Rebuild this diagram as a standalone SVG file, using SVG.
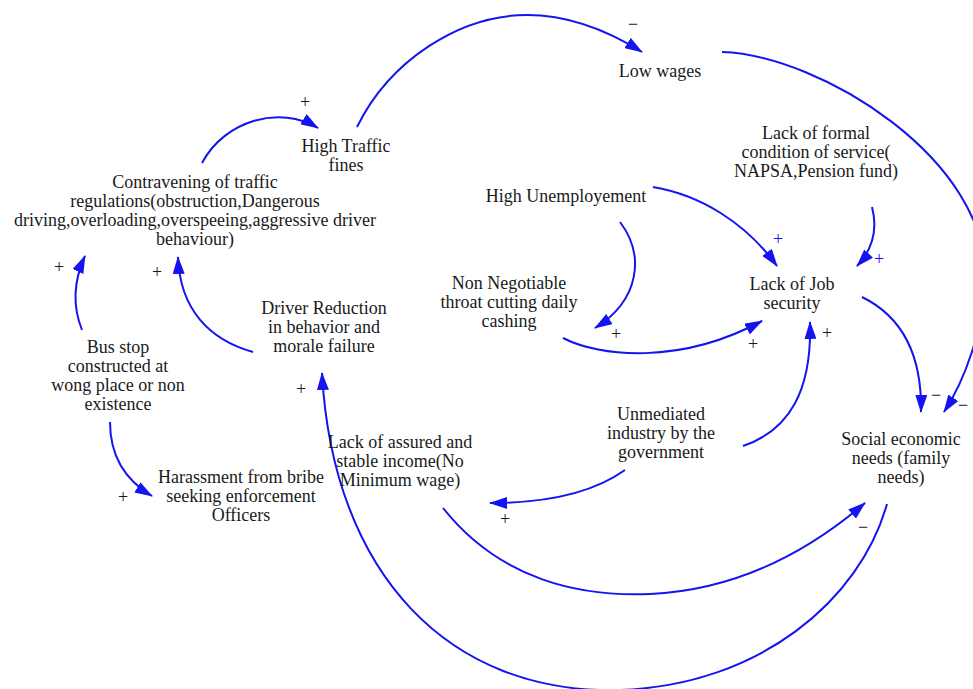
<svg xmlns="http://www.w3.org/2000/svg" width="973" height="689" viewBox="0 0 973 689">
<defs>
<style>
.t{font-family:"Liberation Serif","Times New Roman",serif;font-size:18px;fill:#1a1a1a;text-anchor:middle}
.s{font-family:"Liberation Serif","Times New Roman",serif;font-size:18px;fill:#1a1a1a;text-anchor:middle}
.sb{font-family:"Liberation Serif","Times New Roman",serif;font-size:18px;fill:#1414e6;text-anchor:middle}
.c{fill:none;stroke:#1414f0;stroke-width:2;marker-end:url(#ah)}
</style>
<marker id="ah" markerUnits="userSpaceOnUse" viewBox="0 0 18 12" markerWidth="18" markerHeight="12" refX="17" refY="6" orient="auto">
<path d="M0,0 L18,6 L0,12 z" fill="#1414f0"/>
</marker>
</defs>
<rect width="973" height="689" fill="#ffffff"/>

<g id="connectors">
<path class="c" d="M202,163 C225,120 280,105 318,128"/>
<path class="c" d="M357,127 C390,60 460,15 527,15 C570,15 610,32 642,52"/>
<path class="c" d="M722,52 C820,55 990,160 985,280 C983,330 965,380 944,412"/>
<path class="c" d="M872,207 C878,230 872,250 857,266"/>
<path class="c" d="M653,187 C700,195 745,222 777,266"/>
<path class="c" d="M620,222 C645,255 640,300 595,328"/>
<path class="c" d="M563,338 C600,357 680,365 762,321"/>
<path class="c" d="M862,297 C905,318 922,360 921,412"/>
<path class="c" d="M743,446 C790,430 812,390 810,322"/>
<path class="c" d="M625,470 C590,495 540,503 490,503"/>
<path class="c" d="M443,508 C500,580 580,597 650,594 C740,590 810,550 865,503"/>
<path class="c" d="M887,504 C860,600 760,685 620,690 C450,695 333,575 322,373"/>
<path class="c" d="M253,352 C210,340 180,310 178,257"/>
<path class="c" d="M82,330 C72,305 74,280 85,256"/>
<path class="c" d="M110,422 C110,455 125,480 152,496"/>
</g>

<g id="polarities">
<text class="s" x="305" y="108">+</text>
<text class="s" x="633" y="30">−</text>
<text class="s" x="963" y="411">−</text>
<text class="s" x="936" y="401">−</text>
<text class="s" x="863" y="533">−</text>
<text class="sb" x="778" y="245">+</text>
<text class="sb" x="879" y="265">+</text>
<text class="s" x="616" y="340">+</text>
<text class="s" x="753" y="350">+</text>
<text class="s" x="827" y="339">+</text>
<text class="s" x="505" y="525">+</text>
<text class="s" x="301" y="395">+</text>
<text class="s" x="157" y="278">+</text>
<text class="s" x="59" y="273">+</text>
<text class="s" x="123" y="503">+</text>
</g>

<g id="high-traffic-fines">
<text class="t" x="346" y="152">High Traffic</text>
<text class="t" x="346" y="171">fines</text>
</g>
<g id="contravening">
<text class="t" x="195" y="188">Contravening of traffic</text>
<text class="t" x="195" y="207">regulations(obstruction,Dangerous</text>
<text class="t" x="195" y="226">driving,overloading,overspeeing,aggressive driver</text>
<text class="t" x="195" y="245">behaviour)</text>
</g>
<g id="low-wages">
<text class="t" x="660" y="77">Low wages</text>
</g>
<g id="lack-formal">
<text class="t" x="816" y="139">Lack of formal</text>
<text class="t" x="816" y="158">condition of service(</text>
<text class="t" x="816" y="177">NAPSA,Pension fund)</text>
</g>
<g id="high-unemployement">
<text class="t" x="566" y="202">High Unemployement</text>
</g>
<g id="non-negotiable">
<text class="t" x="509" y="289">Non Negotiable</text>
<text class="t" x="509" y="308">throat cutting daily</text>
<text class="t" x="509" y="327">cashing</text>
</g>
<g id="lack-job-security">
<text class="t" x="792" y="290">Lack of Job</text>
<text class="t" x="792" y="309">security</text>
</g>
<g id="driver-reduction">
<text class="t" x="324" y="314">Driver Reduction</text>
<text class="t" x="324" y="333">in behavior and</text>
<text class="t" x="324" y="352">morale failure</text>
</g>
<g id="bus-stop">
<text class="t" x="118" y="353">Bus stop</text>
<text class="t" x="118" y="372">constructed at</text>
<text class="t" x="118" y="391">wong place or non</text>
<text class="t" x="118" y="410">existence</text>
</g>
<g id="harassment">
<text class="t" x="241" y="483">Harassment from bribe</text>
<text class="t" x="241" y="502">seeking enforcement</text>
<text class="t" x="241" y="521">Officers</text>
</g>
<g id="lack-assured-income">
<text class="t" x="400" y="448">Lack of assured and</text>
<text class="t" x="400" y="467">stable income(No</text>
<text class="t" x="400" y="486">Minimum wage)</text>
</g>
<g id="unmediated-industry">
<text class="t" x="661" y="420">Unmediated</text>
<text class="t" x="661" y="439">industry by the</text>
<text class="t" x="661" y="458">government</text>
</g>
<g id="social-economic-needs">
<text class="t" x="901" y="445">Social economic</text>
<text class="t" x="901" y="464">needs (family</text>
<text class="t" x="901" y="483">needs)</text>
</g>
</svg>
